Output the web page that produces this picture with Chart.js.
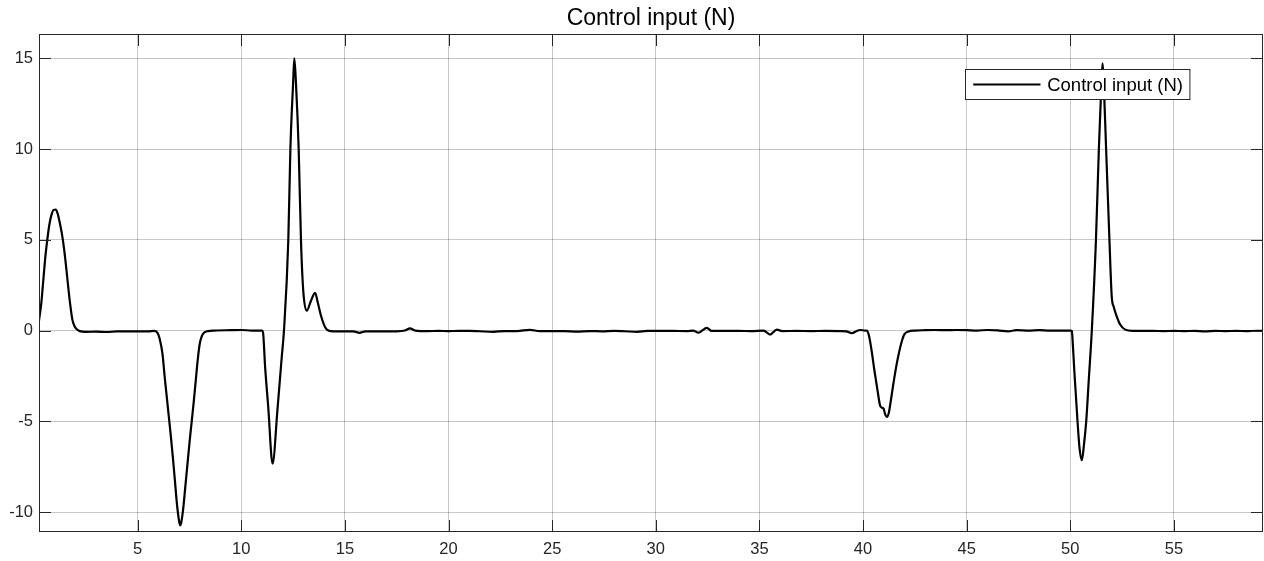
<!DOCTYPE html>
<html>
<head>
<meta charset="utf-8">
<title>Control input (N)</title>
<script src="https://cdn.jsdelivr.net/npm/chart.js@4.4.1/dist/chart.umd.min.js"></script>
<style>
  html, body { margin: 0; padding: 0; background: #fff; }
  #wrap { width: 1264px; height: 561px; }
</style>
</head>
<body>
<div id="wrap"><canvas id="uChart" width="1264" height="561"></canvas></div>
<script>
// Datos (tiempo en s, fuerza en N)
const tiempo = [
  0.24, 0.35, 0.45, 0.55, 0.65, 0.75, 0.85, 0.95, 1.05, 1.15, 1.25, 1.35, 1.45, 1.55, 1.65, 1.75, 1.85, 1.95, 2.05, 2.2,
  2.5, 3.0, 3.5, 4.0, 4.5, 5.0, 5.5, 5.8, 5.95, 6.05,
  6.2, 6.3, 6.4, 6.5, 6.6, 6.7, 6.8, 6.9, 7.0, 7.05, 7.1, 7.2, 7.3, 7.4, 7.5, 7.6, 7.7, 7.8, 7.9, 8.0,
  8.1, 8.2, 8.4, 8.7, 9.5, 10.0, 10.5, 11.0,
  11.05, 11.15, 11.3, 11.51, 11.75, 11.95, 12.06, 12.27, 12.37, 12.5, 12.56, 12.64, 12.77, 12.88, 12.99,
  13.16, 13.35, 13.56, 13.7, 13.85, 14.04, 14.2, 14.44,
  15.0, 15.4, 15.7, 16.0, 16.5, 17.0, 17.5, 17.9, 18.14, 18.4, 19.0, 19.5, 20.0, 20.5, 21.0, 21.5, 22.16, 22.7,
  23.3, 23.93, 24.4, 25.0, 25.6, 26.19, 26.8, 27.4, 28.0, 28.5, 29.1, 29.6, 30.2, 30.8, 31.5, 31.8, 32.06, 32.3,
  32.46, 32.7, 33.3, 34.0, 34.6, 35.2, 35.52, 35.84, 36.1, 36.8, 37.5, 38.2, 38.9, 39.2, 39.46, 39.7, 39.86, 40.1,
  40.18, 40.28, 40.4, 40.55, 40.7, 40.83, 40.92, 40.99, 41.08, 41.15, 41.25, 41.35, 41.47, 41.6, 41.72, 41.87,
  42.0, 42.19, 42.5, 43.0, 43.5, 44.0, 44.5, 45.0, 45.5, 46.0, 46.5, 47.0, 47.4, 48.0, 48.5, 49.0, 49.5, 50.0, 50.08,
  50.1, 50.2, 50.35, 50.45, 50.56, 50.66, 50.77, 50.9, 51.04, 51.24, 51.38, 51.5, 51.56, 51.62, 51.73, 51.89,
  52.0, 52.1, 52.25, 52.4, 52.65, 53.0, 53.5, 54.0, 54.5, 55.0, 55.5, 56.0, 56.5, 57.0, 57.5, 58.0, 58.5, 59.0, 59.3
];
const fuerza = [
  0.55, 1.5, 2.8, 4.1, 5.1, 5.9, 6.4, 6.65, 6.67, 6.4, 5.9, 5.3, 4.5, 3.5, 2.4, 1.4, 0.6, 0.25, 0.08, -0.03,
  -0.07, -0.06, -0.08, -0.05, -0.05, -0.04, -0.04, -0.02, -0.12, -0.4,
  -1.3, -2.5, -3.6, -4.7, -5.8, -7.0, -8.3, -9.6, -10.5, -10.73, -10.6, -9.8, -8.6, -7.4, -6.2, -5.1, -4.0, -2.8, -1.6, -0.7,
  -0.3, -0.12, -0.03, 0.0, 0.02, 0.03, 0.0, 0.0,
  -0.1, -2.0, -4.2, -7.33, -4.3, -1.5, 0.0, 5.0, 10.0, 13.6, 15.0, 13.6, 10.0, 5.0, 2.2,
  1.09, 1.6, 2.08, 1.5, 0.8, 0.2, 0.0, -0.05,
  -0.05, -0.04, -0.13, -0.04, -0.05, -0.04, -0.04, 0.0, 0.12, 0.0, -0.03, -0.02, -0.03, -0.02, -0.02, -0.04, -0.07, -0.03,
  -0.03, 0.04, -0.03, -0.03, -0.03, -0.06, -0.03, -0.04, -0.02, -0.04, -0.07, -0.02, -0.02, -0.02, -0.03, 0.0, -0.12, 0.05,
  0.15, -0.02, -0.02, -0.02, -0.03, 0.0, -0.22, 0.05, -0.03, -0.02, -0.03, -0.02, -0.03, -0.05, -0.15, -0.02, 0.03, 0.0,
  0.0, -0.25, -1.0, -2.2, -3.3, -4.15, -4.25, -4.3, -4.65, -4.76, -4.5, -3.8, -2.9, -2.0, -1.3, -0.6,
  -0.2, -0.05, 0.0, 0.02, 0.03, 0.02, 0.03, 0.02, 0.0, 0.03, 0.01, -0.04, 0.02, 0.0, 0.02, 0.0, 0.0, 0.0, -0.03,
  -0.3, -2.3, -5.0, -6.5, -7.14, -6.3, -5.0, -2.6, 0.0, 5.0, 10.0, 13.5, 14.72, 13.5, 10.0, 5.0,
  1.9, 1.3, 0.76, 0.35, 0.05, -0.02, -0.02, -0.02, -0.03, -0.02, -0.03, -0.02, -0.04, -0.02, -0.03, -0.02, -0.03, -0.02, -0.02
];
const xTicks = [5, 10, 15, 20, 25, 30, 35, 40, 45, 50, 55];
const yTicks = [-10, -5, 0, 5, 10, 15];
const titulo = 'Control input (N)';
const serieLabel = 'Control input (N)';

const colorEje = '#262626';
Chart.defaults.font.family = '"Liberation Sans", Arial, Helvetica, sans-serif';

// Marco, ticks hacia adentro y leyenda tipo MATLAB
const marcoPlugin = {
  id: 'marco',
  afterDatasetsDraw(chart) {
    const {ctx, chartArea: a, scales} = chart;
    ctx.save();
    ctx.strokeStyle = colorEje;
    ctx.lineWidth = 1;
    ctx.beginPath();
    scales.x.ticks.forEach(t => {
      const px = Math.round(scales.x.getPixelForValue(t.value)) + 0.5;
      ctx.moveTo(px, a.bottom); ctx.lineTo(px, a.bottom - 12);
      ctx.moveTo(px, a.top); ctx.lineTo(px, a.top + 12);
    });
    scales.y.ticks.forEach(t => {
      const py = Math.round(scales.y.getPixelForValue(t.value)) + 0.5;
      ctx.moveTo(a.left, py); ctx.lineTo(a.left + 12, py);
      ctx.moveTo(a.right, py); ctx.lineTo(a.right - 12, py);
    });
    ctx.stroke();
    ctx.strokeRect(Math.round(a.left) + 0.5, Math.round(a.top) + 0.5,
                   Math.round(a.width) - 1, Math.round(a.height) - 1);

    // leyenda
    const ds = chart.data.datasets[0];
    ctx.font = '18.5px "Liberation Sans", Arial, sans-serif';
    const textW = ctx.measureText(ds.label).width;
    const boxW = 7.7 + 67.3 + 6.7 + textW + 7;
    const boxH = 30;
    const bx = Math.round(a.right - 73.7 - boxW) + 0.5;
    const by = Math.round(a.top + 35) + 0.5;
    ctx.fillStyle = '#fff';
    ctx.fillRect(bx, by, boxW, boxH);
    ctx.strokeStyle = colorEje;
    ctx.strokeRect(bx, by, boxW, boxH);
    const midY = by + boxH / 2;
    ctx.strokeStyle = ds.borderColor;
    ctx.lineWidth = ds.borderWidth;
    ctx.beginPath();
    ctx.moveTo(bx + 7.7, midY);
    ctx.lineTo(bx + 75, midY);
    ctx.stroke();
    ctx.fillStyle = '#000';
    ctx.textBaseline = 'middle';
    ctx.textAlign = 'left';
    ctx.fillText(ds.label, bx + 81.7, midY + 1);
    ctx.restore();
  }
};

const ctx = document.getElementById('uChart');
const myChart = new Chart(ctx, {
  type: 'line',
  data: {
    datasets: [{
      label: serieLabel,
      data: tiempo.map((t, i) => ({x: t, y: fuerza[i]})),
      borderColor: '#000',
      borderWidth: 2.2,
      pointRadius: 0,
      cubicInterpolationMode: 'monotone',
      fill: false
    }]
  },
  options: {
    responsive: false,
    animation: false,
    devicePixelRatio: 1,
    layout: { padding: { left: 0, right: 1, top: 0, bottom: 0 } },
    plugins: {
      legend: { display: false },
      tooltip: { enabled: false },
      title: {
        display: true,
        fullSize: false,
        text: titulo,
        color: '#000',
        font: { size: 23, weight: 'normal' },
        padding: { top: 5, bottom: 1.4 }
      }
    },
    scales: {
      x: {
        type: 'linear',
        min: 0.24,
        max: 59.3,
        afterBuildTicks: axis => { axis.ticks = xTicks.map(v => ({value: v})); },
        afterFit: axis => { axis.height = 29; },
        grid: { color: 'rgba(0,0,0,0.22)', drawTicks: false },
        border: { display: false },
        ticks: { color: colorEje, font: { size: 16.5 }, padding: 8, maxRotation: 0, includeBounds: false }
      },
      y: {
        type: 'linear',
        min: -11.1,
        max: 16.34,
        afterBuildTicks: axis => { axis.ticks = yTicks.map(v => ({value: v})); },
        afterFit: axis => { axis.width = 39; },
        grid: { color: 'rgba(0,0,0,0.22)', drawTicks: false },
        border: { display: false },
        ticks: { color: colorEje, font: { size: 16.5 }, padding: 6, includeBounds: false }
      }
    }
  },
  plugins: [marcoPlugin]
});
console.log('chartArea', myChart.chartArea);
</script>
</body>
</html>
